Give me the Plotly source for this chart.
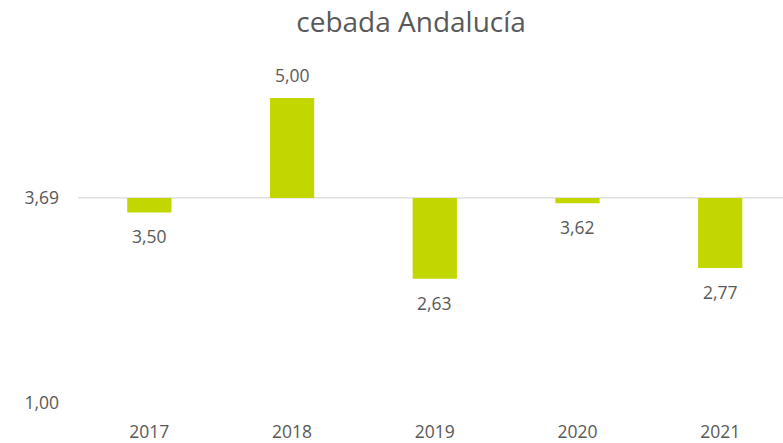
import plotly.graph_objects as go

# Rendimiento de cebada en Andalucía frente a la media del periodo
years = ["2017", "2018", "2019", "2020", "2021"]
values = [3.50, 5.00, 2.63, 3.62, 2.77]
reference = 3.69
y_ticks = [1.00, 3.69]
y_tick_labels = ["1,00", "3,69"]

bar_color = "#C2D700"
text_color = "#595959"
font_family = "Open Sans, Liberation Sans, sans-serif"

def fmt(v):
    return f"{v:.2f}".replace(".", ",")

idx = list(range(len(years)))

fig = go.Figure()
fig.add_trace(go.Bar(
    x=idx,
    y=[v - reference for v in values],
    base=reference,
    width=0.31,
    marker=dict(color=bar_color, line=dict(width=0)),
    hoverinfo="skip",
))

# reference line across the plot
fig.add_shape(type="line", xref="paper", x0=0, x1=1, yref="y",
              y0=reference, y1=reference,
              line=dict(color="#D9D9D9", width=1.3), layer="below")

for i, v in zip(idx, values):
    up = v >= reference
    fig.add_annotation(x=i, y=v, text=fmt(v), showarrow=False,
                       yshift=23 if up else -24,
                       font=dict(size=17.5, color=text_color, family=font_family))

fig.update_layout(
    width=783, height=443,
    margin=dict(l=78, r=0, t=60, b=40),
    paper_bgcolor="white", plot_bgcolor="white",
    showlegend=False,
    title=dict(text="cebada Andalucía", x=0.525, xanchor="center",
               y=0.95, yanchor="middle",
               font=dict(size=28, color=text_color, family=font_family)),
    xaxis=dict(range=[-0.5, 4.44], tickvals=idx, ticktext=years,
               showgrid=False, zeroline=False, showline=False, ticks="",
               ticklabelstandoff=16,
               tickfont=dict(size=17.5, color=text_color, family=font_family)),
    yaxis=dict(range=[1, 5.5], tickvals=y_ticks, ticktext=y_tick_labels,
               showgrid=False, zeroline=False, showline=False, ticks="",
               ticklabelstandoff=18,
               tickfont=dict(size=17.5, color=text_color, family=font_family)),
)

fig.write_html("out.html")
